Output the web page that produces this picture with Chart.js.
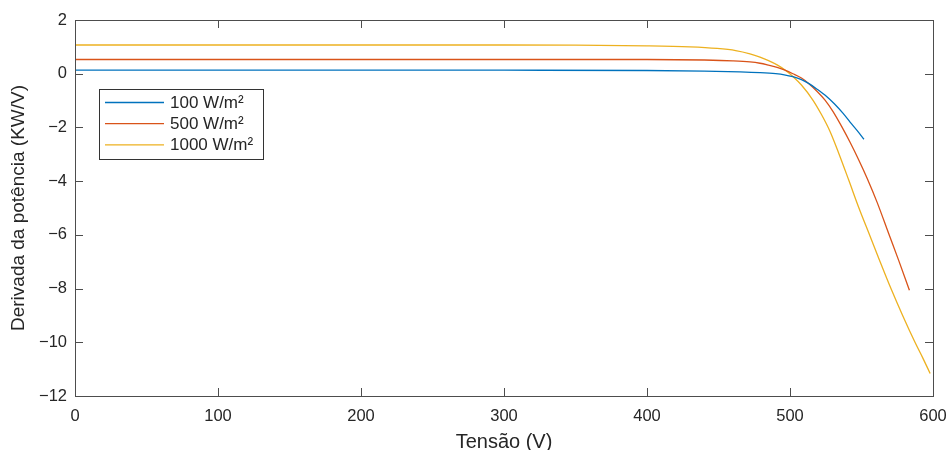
<!DOCTYPE html>
<html>
<head>
<meta charset="utf-8">
<script src="https://cdn.jsdelivr.net/npm/chart.js@4"></script>
<style>
  html, body { margin: 0; padding: 0; background: #fff; overflow: hidden; }
</style>
</head>
<body>
<canvas id="chart" width="950" height="450"></canvas>
<script>
var labels = ['100 W/m²', '500 W/m²', '1000 W/m²'];
var colors = ['#0072BD', '#D95319', '#EDB120'];

var v100 = [0, 100, 200, 300, 400, 440, 465, 479, 490, 496, 502, 508, 513, 519, 525.6, 531, 537, 542, 547, 551.7];
var d100 = [0.13, 0.13, 0.13, 0.13, 0.12, 0.10, 0.07, 0.04, 0.0, -0.04, -0.11, -0.22, -0.36, -0.58, -0.85, -1.12, -1.47, -1.8, -2.12, -2.44];

var v500 = [0, 100, 200, 300, 400, 440, 460, 472, 479, 485, 491, 496, 502, 508, 513, 519, 524.5, 530, 536, 542, 548, 554, 561, 569, 576, 583.5];
var d500 = [0.53, 0.53, 0.53, 0.53, 0.53, 0.51, 0.48, 0.44, 0.39, 0.32, 0.24, 0.14, 0.0, -0.16, -0.36, -0.66, -0.98, -1.4, -1.95, -2.55, -3.2, -3.9, -4.8, -5.95, -6.95, -8.06];

var v1000 = [0, 100, 200, 300, 350, 400, 430, 449, 462, 472, 479, 485, 491, 496.5, 502, 508, 516, 522, 528, 534, 541, 548, 556, 563, 570.6, 579, 587.4, 593, 598];
var d1000 = [1.07, 1.07, 1.07, 1.07, 1.065, 1.04, 1.0, 0.94, 0.86, 0.74, 0.62, 0.49, 0.33, 0.14, -0.1, -0.42, -0.98, -1.52, -2.15, -2.95, -3.95, -4.97, -6.05, -7.0, -8.0, -9.03, -10.0, -10.6, -11.16];

function pts(xs, ys) {
    return xs.map(function (x, i) { return {x: x, y: ys[i]}; });
}

var font = '"Liberation Sans", Arial, sans-serif';
var textColor = '#262626';

// matlab writes a real minus sign
function minus(v) { return String(v).replace('-', '\u2212'); }

var boxPlugin = {
    id: 'box',
    afterDraw: function (chart) {
        var ctx = chart.ctx, a = chart.chartArea;
        var xs = chart.scales.x, ys = chart.scales.y;
        ctx.save();
        ctx.strokeStyle = '#4d4d4d';
        ctx.lineWidth = 1;
        ctx.strokeRect(a.left + 0.5, a.top + 0.5, a.right - a.left, a.bottom - a.top);
        ctx.beginPath();
        xs.ticks.forEach(function (t) {
            var px = Math.round(xs.getPixelForValue(t.value)) + 0.5;
            ctx.moveTo(px, a.bottom); ctx.lineTo(px, a.bottom - 8);
            ctx.moveTo(px, a.top); ctx.lineTo(px, a.top + 8);
        });
        ys.ticks.forEach(function (t) {
            var py = Math.round(ys.getPixelForValue(t.value)) + 0.5;
            ctx.moveTo(a.left, py); ctx.lineTo(a.left + 8, py);
            ctx.moveTo(a.right, py); ctx.lineTo(a.right - 8, py);
        });
        ctx.stroke();

        // legend
        var lx = 99, ly = 89, lw = 164, lh = 70;
        ctx.fillStyle = '#fff';
        ctx.fillRect(lx, ly, lw, lh);
        ctx.strokeStyle = '#333';
        ctx.strokeRect(lx + 0.5, ly + 0.5, lw, lh);
        ctx.font = '17px ' + font;
        ctx.textBaseline = 'middle';
        chart.data.datasets.forEach(function (ds, i) {
            var y = 102.5 + i * 21.2;
            ctx.strokeStyle = ds.borderColor;
            ctx.lineWidth = 1.3;
            ctx.beginPath();
            ctx.moveTo(105, y); ctx.lineTo(164, y);
            ctx.stroke();
            ctx.fillStyle = textColor;
            ctx.fillText(ds.label, 170, y + 0.5);
        });
        ctx.restore();
    }
};

new Chart('chart', {
    type: 'line',
    data: {
        datasets: [
            {label: labels[0], data: pts(v100, d100), borderColor: colors[0]},
            {label: labels[1], data: pts(v500, d500), borderColor: colors[1]},
            {label: labels[2], data: pts(v1000, d1000), borderColor: colors[2]}
        ]
    },
    options: {
        responsive: false,
        animation: false,
        layout: {padding: {top: 20, right: 17, left: 0, bottom: 0}},
        elements: {
            point: {radius: 0},
            line: {borderWidth: 1.3, cubicInterpolationMode: 'monotone'}
        },
        plugins: {legend: {display: false}, tooltip: {enabled: false}},
        scales: {
            x: {
                type: 'linear', min: 0, max: 600,
                ticks: {stepSize: 100, color: textColor, font: {family: font, size: 16.5}, padding: 10.5, maxRotation: 0},
                grid: {display: false, drawTicks: false},
                border: {display: false},
                title: {display: true, text: 'Tensão (V)', color: textColor, font: {family: font, size: 20}, padding: {top: 0, bottom: -4}},
                afterFit: function (s) { s.height = 54; s.paddingLeft = 0; s.paddingRight = 0; }
            },
            y: {
                min: -12, max: 2,
                ticks: {stepSize: 2, color: textColor, font: {family: font, size: 16.5}, padding: 8, callback: minus},
                grid: {display: false, drawTicks: false},
                border: {display: false},
                title: {display: true, text: 'Derivada da potência (KW/V)', color: textColor, font: {family: font, size: 19}, padding: {top: 7, bottom: 0}},
                afterFit: function (s) { s.width = 75; }
            }
        }
    },
    plugins: [boxPlugin]
});
</script>
</body>
</html>
